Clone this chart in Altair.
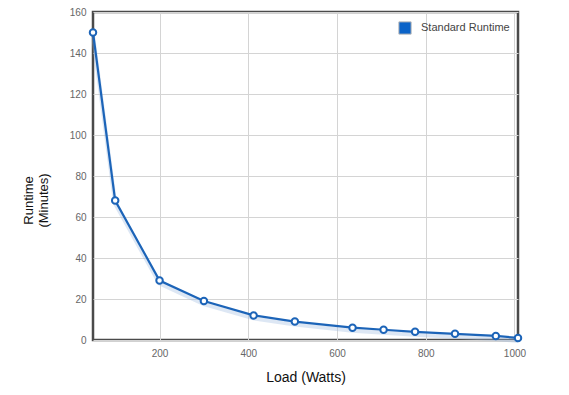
import altair as alt
import pandas as pd

load_watts = [50, 100, 200, 300, 412, 505, 635, 705, 776, 866, 958, 1008]
runtime_min = [150, 68, 29, 19, 12, 9, 6, 5, 4, 3, 2, 1]
series_name = ["Standard Runtime"] * len(load_watts)
x_ticks = [200, 400, 600, 800, 1000]
y_ticks = [0, 20, 40, 60, 80, 100, 120, 140, 160]

df = pd.DataFrame({"load": load_watts, "runtime": runtime_min, "series": series_name})

x_enc = alt.X("load:Q", scale=alt.Scale(domain=[50, 1008], nice=False, zero=False),
              axis=alt.Axis(values=x_ticks, format="d", title="Load (Watts)", grid=True, domain=False,
                            ticks=False, labelColor="#666", labelFontSize=10, labelPadding=8,
                            titleFontSize=14, titleFontWeight="normal", titleColor="#111",
                            titlePadding=12, gridColor="#d4d4d4"))
y_enc = alt.Y("runtime:Q", scale=alt.Scale(domain=[0, 160], nice=False),
              axis=alt.Axis(values=y_ticks, format="d", title=["Runtime", "(Minutes)"], grid=True,
                            domain=False, ticks=False, labelColor="#666", labelFontSize=10,
                            labelPadding=7, titleFontSize=13, titleFontWeight="normal",
                            titleColor="#111", titleX=-65, titleY=188, titleAngle=-90,
                            titleAlign="center", titleBaseline="middle", titleLineHeight=15,
                            gridColor="#d4d4d4"))

base = alt.Chart(df)

shadow = base.mark_line(color="#9fb9e0", strokeWidth=4, opacity=0.35, yOffset=3).encode(x=x_enc, y=y_enc)
line = base.mark_line(color="#1c64b8", strokeWidth=2.2).encode(x=x_enc, y=y_enc)
points = base.mark_point(shape="circle", filled=True, fill="white", stroke="#1c64b8",
                         strokeWidth=2, size=42, opacity=1).encode(x=x_enc, y=y_enc)
legend_layer = base.mark_point(shape="square", filled=True, opacity=0, size=1).encode(
    x=x_enc, y=y_enc,
    color=alt.Color("series:N", scale=alt.Scale(range=["#0b63c8"]),
                    legend=alt.Legend(title=None, orient="none", legendX=305, legendY=9,
                                      symbolType="square", symbolSize=150, symbolOpacity=1,
                                      symbolStrokeColor="#b8b8b8", symbolStrokeWidth=1,
                                      labelFontSize=11, labelColor="#444", labelOffset=9,
                                      padding=0)))

chart = alt.layer(shadow, line, points, legend_layer).properties(
    width=425, height=328,
    autosize=alt.AutoSizeParams(type="none"),
    padding={"left": 85, "top": 4, "right": 40, "bottom": 50},
).configure(
    font="Liberation Sans",
    view=alt.ViewConfig(stroke="#4a4a4a", strokeWidth=2.5),
)

chart.save("out.html", embed_options={"renderer": "svg", "actions": False})
